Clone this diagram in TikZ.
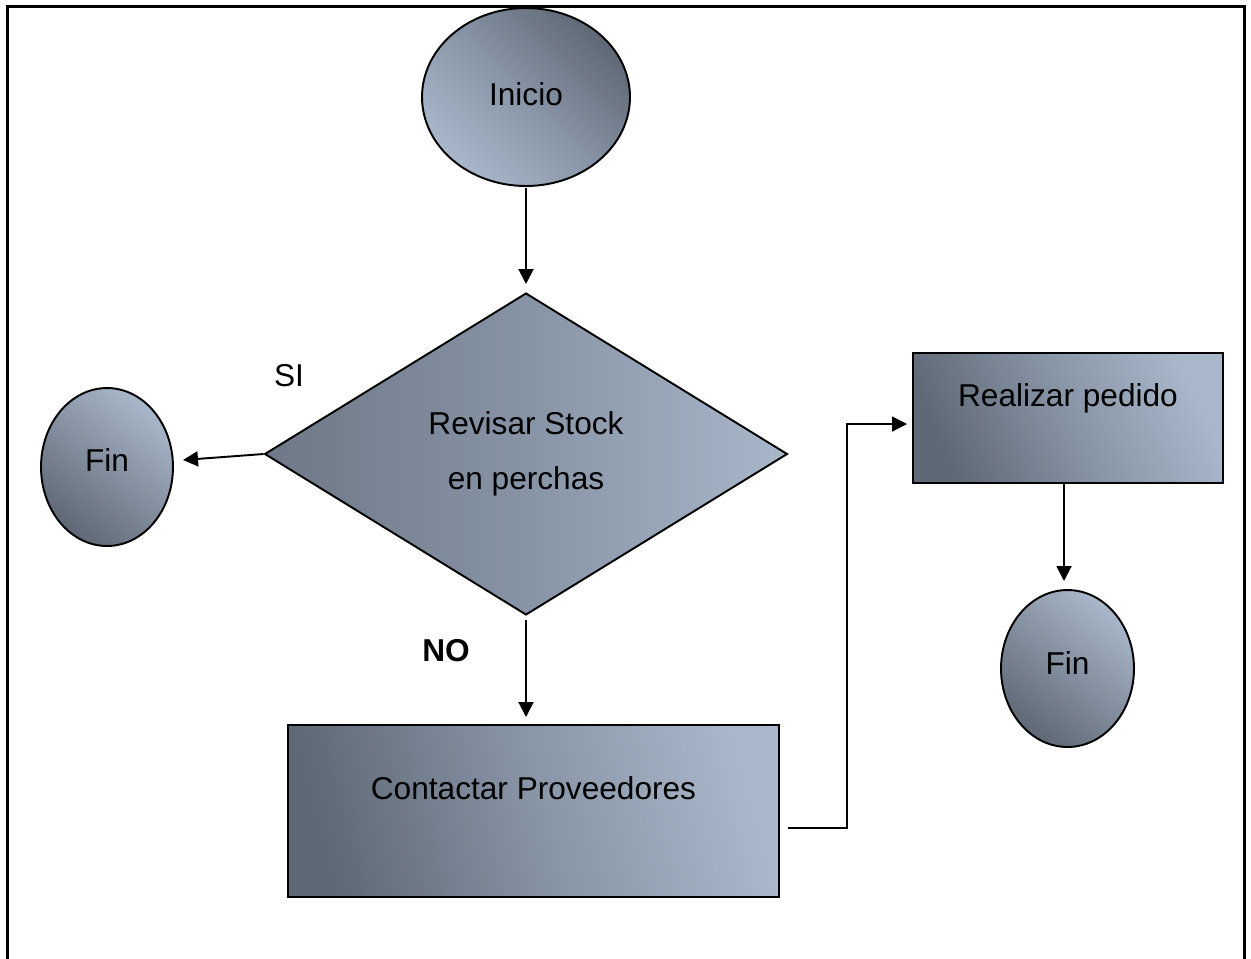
\documentclass[tikz,border=0pt]{standalone}
\usepackage{fontspec}
\setmainfont{Liberation Sans}
\usetikzlibrary{shapes.geometric,arrows.meta}
\definecolor{lightb}{HTML}{A9B7CA}
\definecolor{darkb}{HTML}{5F6875}
\definecolor{midb}{HTML}{8794A6}
\tikzset{
  lbl/.style={font=\fontsize{18}{31}\selectfont},
  shp/.style={draw=black, line width=1.1pt, inner sep=0pt},
  conn/.style={line width=1.1pt, -{Triangle[length=0.3cm,width=0.3cm]}},
  oval/.style={shp, ellipse},
}
\begin{document}
\begin{tikzpicture}[x=0.02cm,y=-0.02cm]
\useasboundingbox (0,0) rectangle (1251,958);
\begin{scope}
\clip (0,0) rectangle (1251,958);
\draw[line width=1.7pt] (7.5,6.5) rectangle (1244.5,990);
\end{scope}
% nodes
\node[oval, minimum width=4.16cm, minimum height=3.56cm, top color=darkb, bottom color=lightb, middle color=midb, shading angle=-45, lbl] (ini) at (526,97) {\raisebox{0.1cm}{Inicio}};
\node[shp, diamond, aspect=1.62, minimum width=10.46cm, minimum height=6.44cm, left color=darkb!80!lightb, right color=lightb, middle color=midb, lbl, align=center] (d) at (526,454) {Revisar Stock\\en perchas};
\node[oval, minimum width=2.64cm, minimum height=3.16cm, top color=lightb, bottom color=darkb, shading angle=-40, lbl] (finL) at (107,467) {\raisebox{0.26cm}{Fin}};
\node[shp, rectangle, minimum width=9.82cm, minimum height=3.44cm, left color=darkb, right color=lightb, middle color=midb, shading angle=105, label={[lbl, yshift=0.46cm]center:Contactar Proveedores}] (cp) at (533.5,811) {};
\node[shp, rectangle, minimum width=6.2cm, minimum height=2.6cm, left color=darkb, right color=lightb, middle color=midb, shading angle=115, label={[lbl, yshift=0.4cm]center:Realizar pedido}] (rp) at (1068,418) {};
\node[oval, minimum width=2.66cm, minimum height=3.14cm, top color=lightb, bottom color=darkb, shading angle=-40, lbl] (finR) at (1067.5,668.5) {\raisebox{0.22cm}{Fin}};
% labels
\node[lbl] (si) at (289,376) {SI};
\node[lbl, font=\fontsize{18}{31}\selectfont\bfseries] (no) at (446,651) {NO};
% coordinates
\coordinate (a1s) at (526,188);
\coordinate (a1e) at (526,284);
\coordinate (sitip) at (183,460);
\coordinate (a3s) at (526,620);
\coordinate (a3e) at (526,717);
\coordinate (c1) at (788,828);
\coordinate (c2) at (847,828);
\coordinate (c3) at (847,424);
\coordinate (c4) at (907,424);
\coordinate (a5s) at (1064,484);
\coordinate (a5e) at (1064,581);
% connectors
\draw[conn] (a1s) -- (a1e);
\draw[conn] (d.west) -- (sitip);
\draw[conn] (a3s) -- (a3e);
\draw[conn] (c1) -- (c2) -- (c3) -- (c4);
\draw[conn] (a5s) -- (a5e);
\end{tikzpicture}
\end{document}
